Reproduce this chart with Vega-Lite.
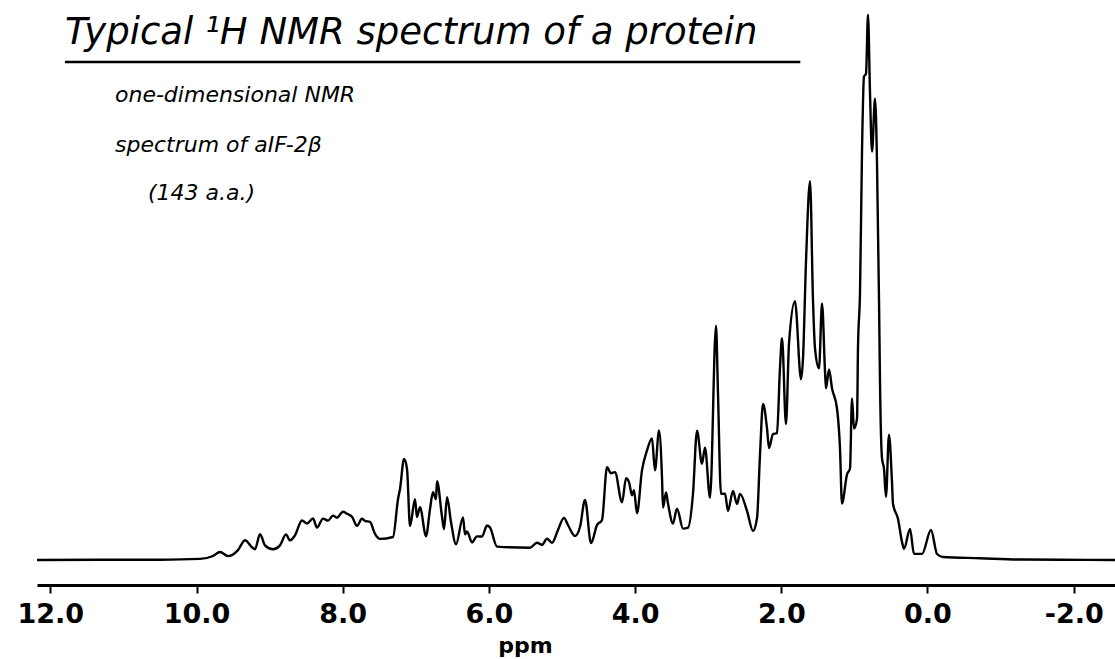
{
  "$schema": "https://vega.github.io/schema/vega-lite/v6.json",
  "width": 1078,
  "height": 585,
  "autosize": {"type": "none"},
  "padding": {"left": 37, "top": 0, "right": 0, "bottom": 74},
  "background": "white",
  "config": {"view": {"stroke": null}},
  "layer": [
    {
      "data": {"values": [
        {"ppm": 12.182, "intensity": 0}, {"ppm": 11.32, "intensity": 0.2}, {"ppm": 10.499, "intensity": 0.3},
        {"ppm": 9.952, "intensity": 1.1}, {"ppm": 9.774, "intensity": 4.0}, {"ppm": 9.679, "intensity": 8.0},
        {"ppm": 9.569, "intensity": 3.9}, {"ppm": 9.432, "intensity": 9.9}, {"ppm": 9.337, "intensity": 19.8},
        {"ppm": 9.241, "intensity": 12.8}, {"ppm": 9.2, "intensity": 10.8}, {"ppm": 9.131, "intensity": 25.8},
        {"ppm": 9.063, "intensity": 14.7}, {"ppm": 8.953, "intensity": 10.7}, {"ppm": 8.858, "intensity": 14.6},
        {"ppm": 8.776, "intensity": 25.6}, {"ppm": 8.721, "intensity": 19.6}, {"ppm": 8.653, "intensity": 24.6},
        {"ppm": 8.557, "intensity": 39.5}, {"ppm": 8.488, "intensity": 36.5}, {"ppm": 8.406, "intensity": 41.5},
        {"ppm": 8.352, "intensity": 32.4}, {"ppm": 8.269, "intensity": 41.4}, {"ppm": 8.201, "intensity": 39.4},
        {"ppm": 8.133, "intensity": 44.4}, {"ppm": 8.078, "intensity": 42.3}, {"ppm": 7.996, "intensity": 48.3},
        {"ppm": 7.941, "intensity": 46.3}, {"ppm": 7.873, "intensity": 43.2}, {"ppm": 7.804, "intensity": 34.2},
        {"ppm": 7.736, "intensity": 41.2}, {"ppm": 7.695, "intensity": 39.2}, {"ppm": 7.627, "intensity": 38.1},
        {"ppm": 7.558, "intensity": 26.1}, {"ppm": 7.49, "intensity": 21.1}, {"ppm": 7.312, "intensity": 23.0},
        {"ppm": 7.243, "intensity": 61.0}, {"ppm": 7.216, "intensity": 71.0}, {"ppm": 7.161, "intensity": 101.0},
        {"ppm": 7.12, "intensity": 90.9}, {"ppm": 7.079, "intensity": 33.9}, {"ppm": 7.011, "intensity": 60.9},
        {"ppm": 6.984, "intensity": 42.9}, {"ppm": 6.943, "intensity": 52.9}, {"ppm": 6.86, "intensity": 23.8},
        {"ppm": 6.806, "intensity": 50.8}, {"ppm": 6.765, "intensity": 67.8}, {"ppm": 6.724, "intensity": 60.8},
        {"ppm": 6.71, "intensity": 78.8}, {"ppm": 6.642, "intensity": 43.7}, {"ppm": 6.614, "intensity": 30.7},
        {"ppm": 6.573, "intensity": 62.7}, {"ppm": 6.518, "intensity": 37.7}, {"ppm": 6.45, "intensity": 15.7},
        {"ppm": 6.354, "intensity": 42.6}, {"ppm": 6.327, "intensity": 25.6}, {"ppm": 6.3, "intensity": 28.6},
        {"ppm": 6.231, "intensity": 17.6}, {"ppm": 6.163, "intensity": 23.6}, {"ppm": 6.094, "intensity": 23.5},
        {"ppm": 6.026, "intensity": 34.5}, {"ppm": 5.985, "intensity": 32.5}, {"ppm": 5.889, "intensity": 13.4},
        {"ppm": 5.438, "intensity": 12.3}, {"ppm": 5.342, "intensity": 17.2}, {"ppm": 5.274, "intensity": 15.2},
        {"ppm": 5.205, "intensity": 21.2}, {"ppm": 5.137, "intensity": 17.1}, {"ppm": 5.055, "intensity": 30.1},
        {"ppm": 4.973, "intensity": 42.1}, {"ppm": 4.918, "intensity": 35.0}, {"ppm": 4.822, "intensity": 24.0},
        {"ppm": 4.754, "intensity": 33.0}, {"ppm": 4.685, "intensity": 60.0}, {"ppm": 4.603, "intensity": 16.9},
        {"ppm": 4.521, "intensity": 34.9}, {"ppm": 4.453, "intensity": 39.9}, {"ppm": 4.384, "intensity": 92.8},
        {"ppm": 4.33, "intensity": 86.8}, {"ppm": 4.275, "intensity": 87.8}, {"ppm": 4.179, "intensity": 57.7},
        {"ppm": 4.124, "intensity": 81.7}, {"ppm": 4.083, "intensity": 77.7}, {"ppm": 4.042, "intensity": 64.7},
        {"ppm": 4.015, "intensity": 69.7}, {"ppm": 3.974, "intensity": 46.7}, {"ppm": 3.906, "intensity": 89.6},
        {"ppm": 3.837, "intensity": 109.6}, {"ppm": 3.769, "intensity": 121.6}, {"ppm": 3.728, "intensity": 89.6},
        {"ppm": 3.673, "intensity": 129.5}, {"ppm": 3.632, "intensity": 82.5}, {"ppm": 3.618, "intensity": 52.5},
        {"ppm": 3.577, "intensity": 67.5}, {"ppm": 3.55, "intensity": 56.5}, {"ppm": 3.482, "intensity": 36.5},
        {"ppm": 3.427, "intensity": 51.4}, {"ppm": 3.345, "intensity": 31.4}, {"ppm": 3.276, "intensity": 32.4},
        {"ppm": 3.208, "intensity": 66.4}, {"ppm": 3.153, "intensity": 129.3}, {"ppm": 3.085, "intensity": 96.3},
        {"ppm": 3.044, "intensity": 112.3}, {"ppm": 2.975, "intensity": 62.3}, {"ppm": 2.893, "intensity": 234.2},
        {"ppm": 2.866, "intensity": 166.2}, {"ppm": 2.825, "intensity": 66.2}, {"ppm": 2.77, "intensity": 66.2},
        {"ppm": 2.729, "intensity": 49.2}, {"ppm": 2.661, "intensity": 69.1}, {"ppm": 2.606, "intensity": 56.1},
        {"ppm": 2.565, "intensity": 66.1}, {"ppm": 2.469, "intensity": 49.0}, {"ppm": 2.387, "intensity": 29.0},
        {"ppm": 2.332, "intensity": 42.0}, {"ppm": 2.291, "intensity": 106.0}, {"ppm": 2.25, "intensity": 156.0},
        {"ppm": 2.196, "intensity": 131.9}, {"ppm": 2.168, "intensity": 111.9}, {"ppm": 2.114, "intensity": 125.9},
        {"ppm": 2.059, "intensity": 126.9}, {"ppm": 2.018, "intensity": 191.9}, {"ppm": 1.99, "intensity": 221.9},
        {"ppm": 1.936, "intensity": 135.8}, {"ppm": 1.895, "intensity": 215.8}, {"ppm": 1.813, "intensity": 258.8},
        {"ppm": 1.73, "intensity": 180.7}, {"ppm": 1.703, "intensity": 201.7}, {"ppm": 1.662, "intensity": 298.7},
        {"ppm": 1.607, "intensity": 378.7}, {"ppm": 1.566, "intensity": 258.7}, {"ppm": 1.539, "intensity": 211.7},
        {"ppm": 1.484, "intensity": 191.6}, {"ppm": 1.443, "intensity": 256.6}, {"ppm": 1.402, "intensity": 188.6},
        {"ppm": 1.389, "intensity": 171.6}, {"ppm": 1.347, "intensity": 190.6}, {"ppm": 1.306, "intensity": 171.6},
        {"ppm": 1.238, "intensity": 151.5}, {"ppm": 1.197, "intensity": 111.5}, {"ppm": 1.17, "intensity": 56.5},
        {"ppm": 1.101, "intensity": 85.5}, {"ppm": 1.06, "intensity": 91.5}, {"ppm": 1.033, "intensity": 161.5},
        {"ppm": 1.005, "intensity": 131.4}, {"ppm": 0.964, "intensity": 141.4}, {"ppm": 0.951, "intensity": 211.4},
        {"ppm": 0.923, "intensity": 268.4}, {"ppm": 0.896, "intensity": 408.4}, {"ppm": 0.869, "intensity": 483.4},
        {"ppm": 0.841, "intensity": 486.4}, {"ppm": 0.814, "intensity": 545.4}, {"ppm": 0.787, "intensity": 468.4},
        {"ppm": 0.759, "intensity": 408.4}, {"ppm": 0.718, "intensity": 461.3}, {"ppm": 0.691, "intensity": 398.3},
        {"ppm": 0.663, "intensity": 258.3}, {"ppm": 0.65, "intensity": 178.3}, {"ppm": 0.622, "intensity": 101.3},
        {"ppm": 0.595, "intensity": 91.3}, {"ppm": 0.568, "intensity": 63.3}, {"ppm": 0.527, "intensity": 125.3},
        {"ppm": 0.486, "intensity": 78.2}, {"ppm": 0.472, "intensity": 56.2}, {"ppm": 0.404, "intensity": 41.2},
        {"ppm": 0.349, "intensity": 18.2}, {"ppm": 0.321, "intensity": 11.2}, {"ppm": 0.239, "intensity": 31.1},
        {"ppm": 0.185, "intensity": 6.1}, {"ppm": 0.075, "intensity": 6.1}, {"ppm": -0.048, "intensity": 30.0},
        {"ppm": -0.13, "intensity": 6.0}, {"ppm": -0.212, "intensity": 3.0}, {"ppm": -0.718, "intensity": 1.8},
        {"ppm": -1.265, "intensity": 0.5}, {"ppm": -1.813, "intensity": 0.3}, {"ppm": -2.565, "intensity": 0}
      ]},
      "mark": {"type": "line", "color": "black", "strokeWidth": 2.4, "interpolate": "monotone", "clip": true},
      "encoding": {
        "x": {
          "field": "ppm", "type": "quantitative",
          "scale": {"domain": [-2.565, 12.182], "reverse": true, "nice": false, "zero": false},
          "axis": {
            "values": [12, 10, 8, 6, 4, 2, 0, -2], "format": ".1f", "title": "ppm", "grid": false,
            "labelExpr": "(datum.value < 0 ? '-' : '') + format(abs(datum.value), '.1f')",
            "domainColor": "black", "domainWidth": 3, "tickColor": "black", "tickWidth": 2, "tickSize": 8,
            "labelFont": "DejaVu Sans", "labelFontSize": 27, "labelFontWeight": "bold", "labelColor": "black",
            "labelPadding": 8, "labelFlush": false, "labelOverlap": false,
            "titleFont": "DejaVu Sans", "titleFontSize": 22, "titleFontWeight": "bold", "titleColor": "black",
            "titleX": 488, "titleY": 67, "titleAlign": "center", "titleBaseline": "alphabetic"
          }
        },
        "y": {
          "field": "intensity", "type": "quantitative",
          "scale": {"domain": [-25, 560], "nice": false, "zero": false},
          "axis": null
        }
      }
    },
    {
      "data": {"values": [{}]},
      "mark": {"type": "rule", "color": "black", "strokeWidth": 2.5},
      "encoding": {
        "x": {"datum": 11.8, "type": "quantitative"},
        "x2": {"datum": 1.74},
        "y": {"datum": 498, "type": "quantitative"}
      }
    },
    {
      "data": {"values": [{}]},
      "mark": {"type": "text", "text": "Typical ¹H NMR spectrum of a protein", "align": "left", "baseline": "alphabetic", "font": "DejaVu Sans", "fontSize": 37, "fontStyle": "italic", "color": "black"},
      "encoding": {
        "x": {"datum": 11.8, "type": "quantitative"},
        "y": {"datum": 516, "type": "quantitative"}
      }
    },
    {
      "data": {"values": [{}]},
      "mark": {"type": "text", "text": "one-dimensional NMR", "align": "left", "baseline": "alphabetic", "font": "DejaVu Sans", "fontSize": 22, "fontStyle": "italic", "color": "black"},
      "encoding": {
        "x": {"datum": 11.115, "type": "quantitative"},
        "y": {"datum": 458, "type": "quantitative"}
      }
    },
    {
      "data": {"values": [{}]},
      "mark": {"type": "text", "text": "spectrum of aIF-2β", "align": "left", "baseline": "alphabetic", "font": "DejaVu Sans", "fontSize": 22, "fontStyle": "italic", "color": "black"},
      "encoding": {
        "x": {"datum": 11.115, "type": "quantitative"},
        "y": {"datum": 408, "type": "quantitative"}
      }
    },
    {
      "data": {"values": [{}]},
      "mark": {"type": "text", "text": "(143 a.a.)", "align": "left", "baseline": "alphabetic", "font": "DejaVu Sans", "fontSize": 22, "fontStyle": "italic", "color": "black"},
      "encoding": {
        "x": {"datum": 10.663, "type": "quantitative"},
        "y": {"datum": 360, "type": "quantitative"}
      }
    }
  ]
}
